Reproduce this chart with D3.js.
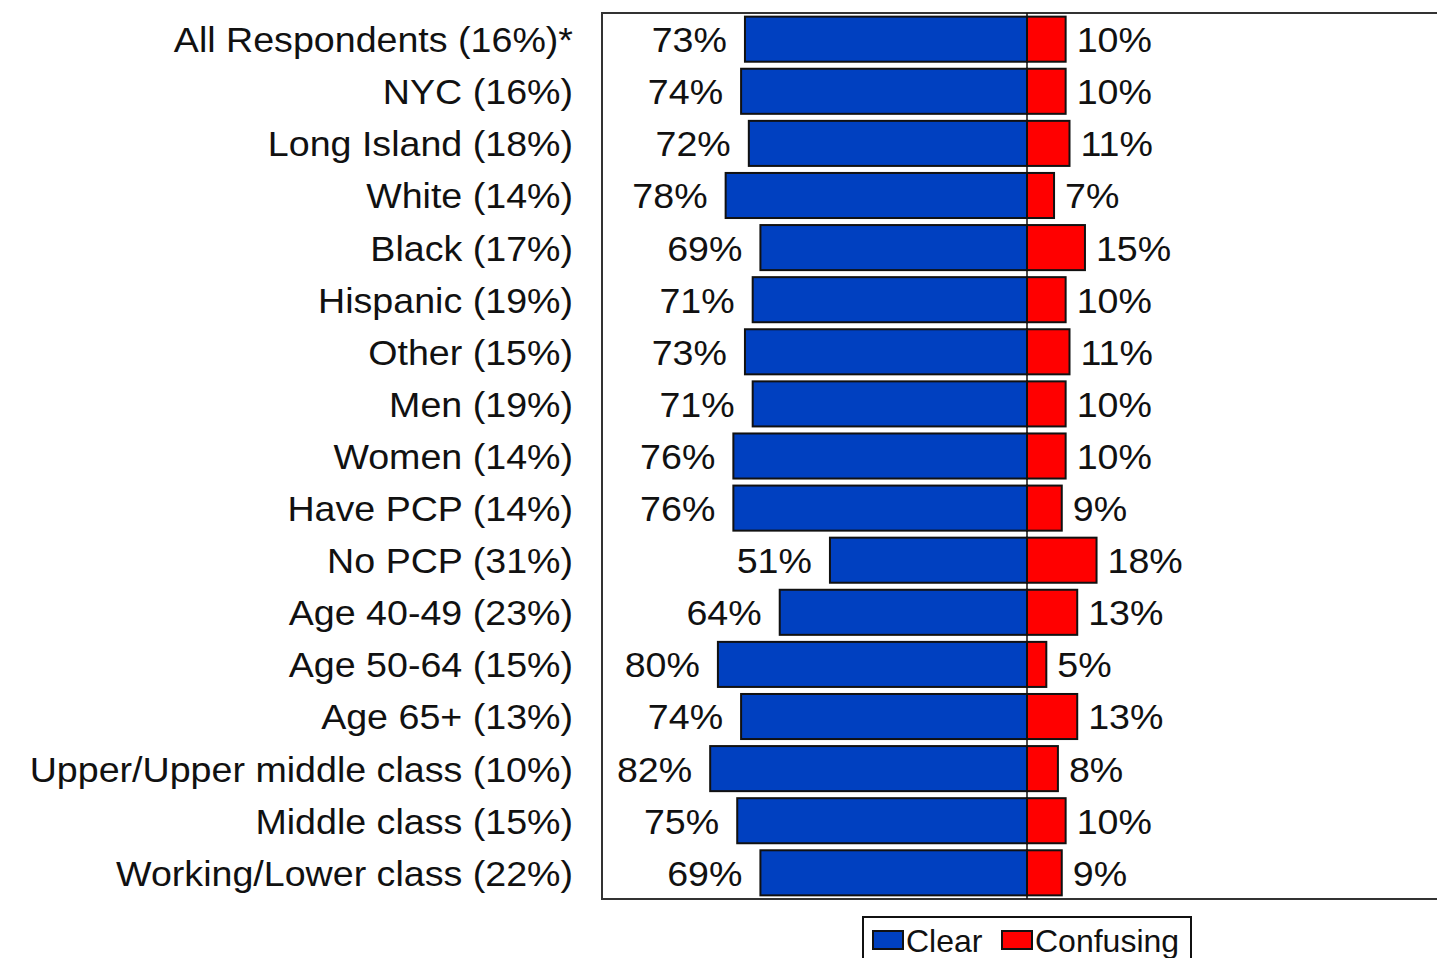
<!DOCTYPE html>
<html>
<head>
<meta charset="utf-8">
<script src="https://cdn.jsdelivr.net/npm/d3@7"></script>
<style>
  body { margin: 0; background: #fff; }
  svg { display: block; font-family: "Liberation Sans", Arial, sans-serif; }
</style>
</head>
<body>
<div id="chart"></div>
<script>
// data
var categories = ["All Respondents (16%)*", "NYC (16%)", "Long Island (18%)", "White (14%)",
  "Black (17%)", "Hispanic (19%)", "Other (15%)", "Men (19%)", "Women (14%)", "Have PCP (14%)",
  "No PCP (31%)", "Age 40-49 (23%)", "Age 50-64 (15%)", "Age 65+ (13%)",
  "Upper/Upper middle class (10%)", "Middle class (15%)", "Working/Lower class (22%)"];
var clearValues =     [73, 74, 72, 78, 69, 71, 73, 71, 76, 76, 51, 64, 80, 74, 82, 75, 69];
var confusingValues = [10, 10, 11,  7, 15, 10, 11, 10, 10,  9, 18, 13,  5, 13,  8, 10,  9];
var seriesNames = ["Clear", "Confusing"];
var seriesColors = ["#0040c0", "#ff0000"];

var width = 1437, height = 958;
var plot = {left: 602, top: 13, bottom: 899, right: 1452};

var svg = d3.select("#chart").append("svg")
  .attr("width", width)
  .attr("height", height);

var x = d3.scaleLinear().domain([-110, 110]).range([plot.left, plot.right]);
var y = d3.scaleBand().domain(categories).range([plot.top, plot.bottom])
  .paddingInner(0.135).paddingOuter(0.07);

var rows = categories.map(function(c, i) {
  return {name: c, clear: clearValues[i], confusing: confusingValues[i]};
});

// labels in the source are a bit wider than tall
function wide(sel) {
  sel.attr("font-size", 36)
    .attr("fill", "#111")
    .attr("dy", "0.36em")
    .attr("transform", function() {
      var tx = +d3.select(this).attr("x");
      return "translate(" + tx + ",0) scale(1.045,1) translate(" + (-tx) + ",0)";
    });
}

// plot frame
svg.append("rect")
  .attr("x", plot.left).attr("y", plot.top)
  .attr("width", plot.right - plot.left).attr("height", plot.bottom - plot.top)
  .attr("fill", "none").attr("stroke", "#333").attr("stroke-width", 2);

// clear bars (left of zero)
svg.selectAll(".clear")
  .data(rows)
  .enter().append("rect")
  .attr("class", "clear")
  .attr("x", function(d) { return x(-d.clear); })
  .attr("y", function(d) { return y(d.name); })
  .attr("width", function(d) { return x(0) - x(-d.clear); })
  .attr("height", y.bandwidth())
  .attr("fill", seriesColors[0])
  .attr("stroke", "#111").attr("stroke-width", 2);

// confusing bars (right of zero)
svg.selectAll(".confusing")
  .data(rows)
  .enter().append("rect")
  .attr("class", "confusing")
  .attr("x", x(0))
  .attr("y", function(d) { return y(d.name); })
  .attr("width", function(d) { return x(d.confusing) - x(0); })
  .attr("height", y.bandwidth())
  .attr("fill", seriesColors[1])
  .attr("stroke", "#111").attr("stroke-width", 2);

// zero line
svg.append("line")
  .attr("x1", x(0)).attr("x2", x(0))
  .attr("y1", plot.top).attr("y2", plot.bottom)
  .attr("stroke", "#111").attr("stroke-width", 1.5);

// value labels
svg.selectAll(".clearLabel")
  .data(rows)
  .enter().append("text")
  .attr("x", function(d) { return x(-d.clear) - 18; })
  .attr("y", function(d) { return y(d.name) + y.bandwidth() / 2; })
  .attr("text-anchor", "end")
  .text(function(d) { return d.clear + "%"; })
  .call(wide);

svg.selectAll(".confLabel")
  .data(rows)
  .enter().append("text")
  .attr("x", function(d) { return x(d.confusing) + 11; })
  .attr("y", function(d) { return y(d.name) + y.bandwidth() / 2; })
  .attr("text-anchor", "start")
  .text(function(d) { return d.confusing + "%"; })
  .call(wide);

// category labels
svg.selectAll(".cat")
  .data(rows)
  .enter().append("text")
  .attr("x", 573)
  .attr("y", function(d) { return y(d.name) + y.bandwidth() / 2; })
  .attr("text-anchor", "end")
  .text(function(d) { return d.name; })
  .call(wide);

// legend
var legend = svg.append("g").attr("transform", "translate(863,917)");
legend.append("rect")
  .attr("width", 328).attr("height", 60)
  .attr("fill", "#fff").attr("stroke", "#111").attr("stroke-width", 2);

var legendX = [10, 139];
seriesNames.forEach(function(name, i) {
  legend.append("rect")
    .attr("x", legendX[i]).attr("y", 14)
    .attr("width", 30).attr("height", 18)
    .attr("fill", seriesColors[i])
    .attr("stroke", "#111").attr("stroke-width", 2);
  legend.append("text")
    .attr("x", legendX[i] + 33).attr("y", 23)
    .attr("dy", "0.36em")
    .attr("font-size", 32)
    .attr("fill", "#111")
    .text(name);
});
</script>
</body>
</html>
